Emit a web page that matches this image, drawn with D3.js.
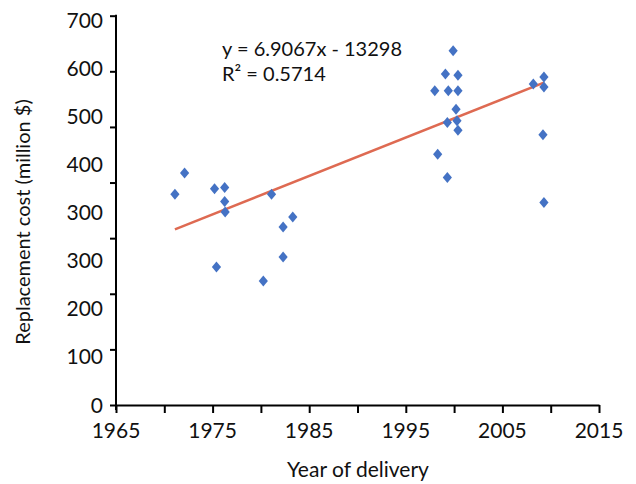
<!DOCTYPE html>
<html>
<head>
<meta charset="utf-8">
<script src="https://cdn.jsdelivr.net/npm/d3@7"></script>
<style>
  body { margin: 0; background: #fff; }
  text { font-family: Lato, "Open Sans", sans-serif; fill: #111; }
</style>
</head>
<body>
<svg id="chart" width="636" height="484"></svg>
<script>
// 数据：交付年份与重置成本
var years = [1971.1, 1972.1, 1975.2, 1976.25, 1976.25, 1976.3, 1975.4, 1981.1, 1982.3, 1983.3, 1982.3, 1980.25,
  1999.9, 1999.1, 2000.4, 1998.0, 1999.4, 2000.4, 2000.2, 1999.3, 2000.3, 2000.4, 1998.3, 1999.3,
  2008.2, 2009.3, 2009.3, 2009.2, 2009.3];
var costs = [379, 417, 389, 391, 366, 347, 248, 379, 320, 338, 266, 223,
  637, 595, 593, 565, 565, 565, 532, 508, 511, 494, 451, 409,
  577, 590, 572, 486, 364];

// 刻度
var xTicks = [1965, 1970, 1975, 1980, 1985, 1990, 1995, 2000, 2005, 2010, 2015];
var xTickLabels = [1965, 1975, 1985, 1995, 2005, 2015];
var yTicks = [0, 100, 200, 300, 400, 500, 600, 700];
var yTickLabels = ["700", "600", "500", "400", "300", "300", "200", "100", "0"];

// 趋势线 y = a x + b
var slope = 6.9067, intercept = -13298, rSquared = "0.5714";

var svg = d3.select("#chart");

var x = d3.scaleLinear().domain([1965, 2015]).range([116, 599]);
var y = d3.scaleLinear().domain([0, 700]).range([405, 15.7]);
// 标签与刻度线并不对齐（原图如此）
var yLab = d3.scaleLinear().domain([0, yTickLabels.length - 1]).range([20, 405]);

// x轴
var xAxis = svg.append("g")
  .attr("transform", "translate(0,405)")
  .call(d3.axisBottom(x).tickValues(xTicks).tickSize(8).tickSizeOuter(0).tickFormat(""));
xAxis.selectAll("path, line").attr("stroke", "#000").attr("stroke-width", 2);

svg.append("g").selectAll("text")
  .data(xTickLabels)
  .enter().append("text")
  .attr("x", function (d) { return x(d); })
  .attr("y", 438)
  .attr("text-anchor", "middle")
  .style("font-size", "21px")
  .text(function (d) { return d; });

// y轴
var yAxis = svg.append("g")
  .attr("transform", "translate(116,0)")
  .call(d3.axisLeft(y).tickValues(yTicks).tickSize(6).tickSizeOuter(0).tickFormat(""));
yAxis.selectAll("path, line").attr("stroke", "#000").attr("stroke-width", 2);
yAxis.select("path").attr("d", "M0," + (y(700) - 1) + "V" + (y(0) + 5));

svg.append("g").selectAll("text")
  .data(yTickLabels)
  .enter().append("text")
  .attr("x", 103)
  .attr("y", function (d, i) { return yLab(i); })
  .attr("dy", "0.36em")
  .attr("text-anchor", "end")
  .style("font-size", "21px")
  .text(function (d) { return d; });

// 趋势线
var xMin = d3.min(years), xMax = d3.max(years);
svg.append("line")
  .attr("x1", x(xMin)).attr("y1", y(slope * xMin + intercept))
  .attr("x2", x(xMax)).attr("y2", y(slope * xMax + intercept))
  .attr("stroke", "#DE6A52")
  .attr("stroke-width", 2.5);

// 散点（菱形）
var diamond = "M0,-5.5L4.6,0L0,5.5L-4.6,0Z";
svg.append("g").selectAll("path")
  .data(years.map(function (d, i) { return [d, costs[i]]; }))
  .enter().append("path")
  .attr("d", diamond)
  .attr("transform", function (d) { return "translate(" + x(d[0]) + "," + y(d[1]) + ")"; })
  .attr("fill", "#4472C4");

// 方程文字
svg.append("text")
  .attr("x", 222).attr("y", 56)
  .style("font-size", "20px")
  .text("y = " + slope + "x - " + Math.abs(intercept));
svg.append("text")
  .attr("x", 222).attr("y", 81)
  .style("font-size", "20px")
  .text("R² = " + rSquared);

// 坐标轴标题
svg.append("text")
  .attr("x", 358).attr("y", 477)
  .attr("text-anchor", "middle")
  .style("font-size", "21px")
  .text("Year of delivery");
svg.append("text")
  .attr("transform", "translate(30,222) rotate(-90)")
  .attr("text-anchor", "middle")
  .style("font-size", "20px")
  .text("Replacement cost (million $)");
</script>
</body>
</html>
